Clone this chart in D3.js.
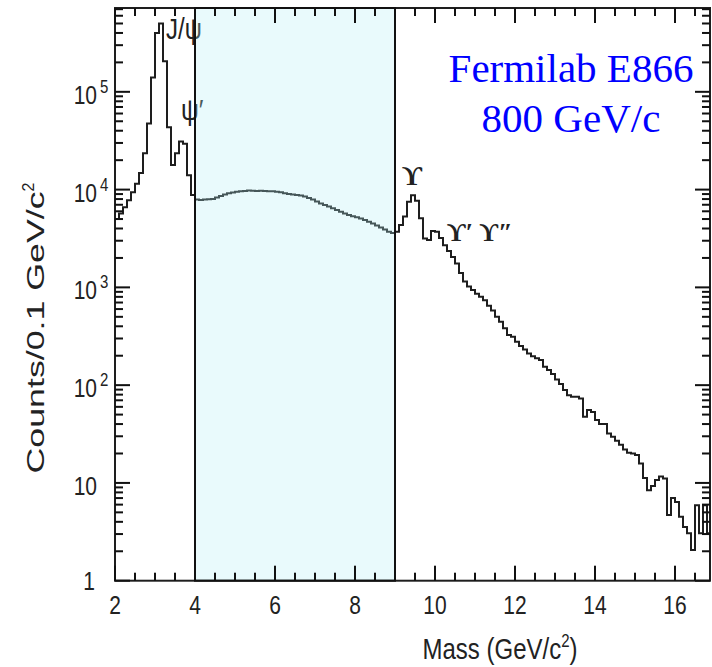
<!DOCTYPE html>
<html>
<head>
<meta charset="utf-8">
<script src="https://cdn.jsdelivr.net/npm/d3@7"></script>
<style>
  body { margin: 0; background: #fff; }
  text { font-family: "Liberation Sans", Arial, sans-serif; fill: #222; }
</style>
</head>
<body>
<svg id="chart" width="712" height="667"></svg>
<script>
// dimuon mass spectrum, 0.1 GeV bins starting at 2.0 GeV
const binStart = 2.0, binWidth = 0.1;
const counts = [
  // 2.0 - 3.9 (J/psi, psi')
  5000, 5700, 6600, 7800, 9400, 11500, 14800, 23500, 47500, 140000,
  400000, 500000, 205000, 43500, 17800, 23500, 31000, 29500, 14000, 8800,
  // 4.0 - 8.9 continuum
  7900, 7850, 7900, 7950, 8000, 8300, 8600, 8900, 9150, 9350,
  9500, 9600, 9700, 9800, 9750, 9700, 9750, 9650, 9600, 9600,
  9500, 9400, 9200, 9000, 8900, 8800, 8700, 8500, 8200, 7900,
  7550, 7200, 6950, 6700, 6450, 6200, 5950, 5700, 5500, 5350,
  5200, 5050, 4900, 4700, 4500, 4300, 4100, 3900, 3700, 3600,
  // 9.0 - 10.9 (upsilons)
  3700, 4350, 5300, 7500, 8750, 7700, 5100, 3170, 3050, 3780,
  3700, 3200, 2700, 2350, 2050, 1750, 1400, 1150, 1020, 940,
  // 11.0 - 16.9 tail
  860, 800, 740, 650, 580, 500, 445, 382, 326, 313,
  278, 251, 232, 211, 198, 188, 181, 154, 143, 130,
  114, 103, 89, 79, 76, 76, 73, 47.5, 55.6, 53,
  44, 40, 40, 32, 29.7, 27, 24.6, 22, 20.4, 20,
  19.3, 15.8, 11.2, 8.4, 9.3, 10.7, 11.6, 11.1, 4.7, 7,
  6.4, 4.5, 3.55, 3.05, 2.06, 5.9, 3.05, 5.9, 3.05, 5.9
];
const massTicks = [2, 4, 6, 8, 10, 12, 14, 16];
const massMinor = [2.5, 3, 3.5, 4.5, 5, 5.5, 6.5, 7, 7.5, 8.5, 9, 9.5, 10.5, 11, 11.5,
  12.5, 13, 13.5, 14.5, 15, 15.5, 16.5];
const decades = [0, 1, 2, 3, 4, 5];
const boxRange = [4, 9];
const infoLines = ["Fermilab E866", "800 GeV/c"];

const svg = d3.select("#chart");
const pLeft = 115, pRight = 710, pTop = 8, pBottom = 580.7;

const x = d3.scaleLinear().domain([2, 16.875]).range([pLeft, pRight]);
const y = d3.scaleLog().domain([1, 7.2e5]).range([pBottom, pTop]);

svg.append("defs").append("clipPath").attr("id", "plotclip")
  .append("rect").attr("x", pLeft).attr("y", pTop)
  .attr("width", pRight - pLeft).attr("height", pBottom - pTop);

// histogram
let pts = counts.map((c, i) => ({ m: binStart + i * binWidth, c: c }));
pts.push({ m: binStart + counts.length * binWidth, c: counts[counts.length - 1] });

const line = d3.line()
  .x(d => x(d.m))
  .y(d => y(d.c))
  .curve(d3.curveStepAfter);

svg.append("path")
  .datum(pts)
  .attr("clip-path", "url(#plotclip)")
  .attr("d", line)
  .attr("fill", "none")
  .attr("stroke", "#1e1e1e")
  .attr("stroke-width", 2);

// frame
svg.append("rect")
  .attr("x", pLeft).attr("y", pTop)
  .attr("width", pRight - pLeft).attr("height", pBottom - pTop)
  .attr("fill", "none").attr("stroke", "#1e1e1e").attr("stroke-width", 2);

// x tick labels
svg.selectAll(".xlab")
  .data(massTicks)
  .join("text")
  .attr("class", "xlab")
  .attr("transform", d => `translate(${x(d)},614) scale(1,1.25)`)
  .attr("text-anchor", "middle")
  .style("font-size", "21px")
  .text(d => d);

// y tick labels
decades.forEach(e => {
  let py = y(Math.pow(10, e));
  if (e === 0) {
    svg.append("text").attr("transform", `translate(95,${py + 9}) scale(1,1.25)`)
      .attr("text-anchor", "end").style("font-size", "21px").text("1");
  } else {
    svg.append("text").attr("transform", `translate(97,${py + 12}) scale(1,1.25)`)
      .attr("text-anchor", "end").style("font-size", "21px").text("10");
    if (e > 1) {
      svg.append("text").attr("transform", `translate(100,${py + 1}) scale(1,1.25)`)
        .style("font-size", "15px").text(e);
    }
  }
});

// axis titles
let xt = svg.append("text")
  .attr("transform", "translate(500,659) scale(1,1.25)")
  .attr("text-anchor", "middle")
  .style("font-size", "24px");
xt.append("tspan").text("Mass (GeV/c");
xt.append("tspan").attr("dy", -10).style("font-size", "15px").text("2");
xt.append("tspan").attr("dy", 10).text(")");

let yt = svg.append("text")
  .attr("transform", "translate(44,328) rotate(-90)")
  .attr("text-anchor", "middle")
  .style("font-size", "23px");
yt.append("tspan").attr("textLength", 282).attr("lengthAdjust", "spacingAndGlyphs")
  .text("Counts/0.1 GeV/c");
yt.append("tspan").attr("dy", -10).style("font-size", "16px").text("2");

// resonance labels
svg.append("text").attr("transform", "translate(166,39) scale(1,1.2)")
  .style("font-size", "24px").text("J/\u03C8");
svg.append("text").attr("transform", "translate(181,120) scale(1,1.2)")
  .style("font-size", "25px").text("\u03C8\u2032");
svg.append("text").attr("x", 402).attr("y", 185)
  .style("font-family", "'Liberation Serif', 'Times New Roman', serif")
  .style("font-weight", "bold").style("font-size", "28px").text("\u03D2");
svg.append("text").attr("x", 447).attr("y", 241)
  .style("font-family", "'Liberation Serif', 'Times New Roman', serif")
  .style("font-weight", "bold").style("font-size", "26px").text("\u03D2\u2032 \u03D2\u2033");

// highlighted mass window, translucent over the spectrum
svg.append("rect")
  .attr("x", x(boxRange[0])).attr("y", pTop)
  .attr("width", x(boxRange[1]) - x(boxRange[0])).attr("height", pBottom - pTop)
  .attr("fill", "#b0eef5").attr("fill-opacity", 0.28)
  .attr("stroke", "#111").attr("stroke-width", 2);

// inward ticks on all four sides, drawn last as rects
let yMinor = [];
decades.forEach(e => {
  for (let k = 2; k <= 9; k++) {
    let v = k * Math.pow(10, e);
    if (v <= 7.2e5) yMinor.push(v);
  }
});
let yMajor = decades.map(e => Math.pow(10, e));

let tickData = [];
massMinor.forEach(v => tickData.push({ dir: "x", v: v, len: 8 }));
massTicks.forEach(v => tickData.push({ dir: "x", v: v, len: 15 }));
yMinor.forEach(v => tickData.push({ dir: "y", v: v, len: 8 }));
yMajor.forEach(v => tickData.push({ dir: "y", v: v, len: 15 }));

const tw = 2;
let tg = svg.append("g").attr("class", "ticks");
tg.selectAll("rect.tb")
  .data(tickData.filter(d => d.dir === "x"))
  .join("rect")
  .attr("class", "tb")
  .attr("x", d => x(d.v) - tw / 2).attr("y", d => pBottom - d.len)
  .attr("width", tw).attr("height", d => d.len)
  .attr("fill", "#111");
tg.selectAll("rect.tt")
  .data(tickData.filter(d => d.dir === "x"))
  .join("rect")
  .attr("class", "tt")
  .attr("x", d => x(d.v) - tw / 2).attr("y", pTop)
  .attr("width", tw).attr("height", d => d.len)
  .attr("fill", "#111");
tg.selectAll("rect.tl")
  .data(tickData.filter(d => d.dir === "y"))
  .join("rect")
  .attr("class", "tl")
  .attr("x", pLeft).attr("y", d => y(d.v) - tw / 2)
  .attr("width", d => d.len).attr("height", tw)
  .attr("fill", "#111");
tg.selectAll("rect.tr")
  .data(tickData.filter(d => d.dir === "y"))
  .join("rect")
  .attr("class", "tr")
  .attr("x", d => pRight - d.len).attr("y", d => y(d.v) - tw / 2)
  .attr("width", d => d.len).attr("height", tw)
  .attr("fill", "#111");

// experiment label
svg.selectAll(".info")
  .data(infoLines)
  .join("text")
  .attr("class", "info")
  .attr("x", 571)
  .attr("y", (d, i) => 82 + i * 50)
  .attr("text-anchor", "middle")
  .style("font-family", "'Liberation Serif', 'Times New Roman', serif")
  .style("font-size", "41px")
  .style("fill", "#0000ff")
  .text(d => d);
</script>
</body>
</html>
